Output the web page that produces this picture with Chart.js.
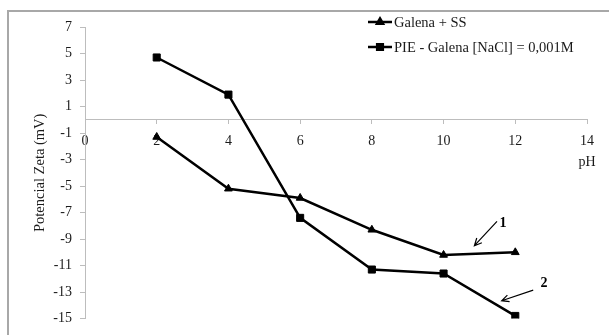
<!DOCTYPE html>
<html>
<head>
<meta charset="utf-8">
<script src="https://cdn.jsdelivr.net/npm/chart.js@4"></script>
<style>
  html, body { margin: 0; padding: 0; background: #fff; overflow: hidden; }
  #wrap { position: relative; width: 609px; height: 335px; }
  #frame { position: absolute; left: 7px; top: 10px; width: 620px; height: 340px;
           border-left: 2px solid #a8a8a8; border-top: 2px solid #a8a8a8; box-sizing: border-box; }
  canvas { position: absolute; left: 0; top: 0; }
</style>
</head>
<body>
<div id="wrap">
  <div id="frame"></div>
  <canvas id="c" width="609" height="335"></canvas>
</div>
<script>
// pH values where zeta potential was measured
const phValues = [2, 4, 6, 8, 10, 12];

// Zeta potential (mV) per series
const galenaSS = [-1.3, -5.2, -5.9, -8.3, -10.2, -10.0];
const pieGalena = [4.7, 1.9, -7.4, -11.3, -11.6, -14.8];

const seriesLabels = ['Galena + SS', 'PIE - Galena [NaCl] = 0,001M'];
const seriesMarkers = ['triangle', 'rect'];

// Axis ticks
const xTicks = [0, 2, 4, 6, 8, 10, 12, 14];
const yTicks = [-15, -13, -11, -9, -7, -5, -3, -1, 1, 3, 5, 7];
const xTitle = 'pH';
const yTitle = 'Potencial Zeta (mV)';

// Curve callouts: label text, label position, arrow tail and head (data units)
const callouts = [
  { text: '1', at: [11.66, -7.85], from: [11.49, -7.66], to: [10.86, -9.5] },
  { text: '2', at: [12.8, -12.35], from: [12.5, -12.85], to: [11.62, -13.65] }
];

const FONT = '"Liberation Serif", "Times New Roman", serif';
const INK = '#1a1a1a';

const toPoints = vals => vals.map((v, i) => ({ x: phValues[i], y: v }));

const legendPlugin = {
  id: 'sideLegend',
  afterDraw(chart) {
    const ctx = chart.ctx;
    const x0 = 368, x1 = 392;
    const rows = [22, 47];
    ctx.save();
    chart.data.datasets.forEach((ds, i) => {
      const y = rows[i];
      ctx.strokeStyle = '#000';
      ctx.lineWidth = 2.5;
      ctx.beginPath();
      ctx.moveTo(x0, y);
      ctx.lineTo(x1, y);
      ctx.stroke();
      ctx.fillStyle = '#000';
      Chart.helpers.drawPoint(ctx, {
        pointStyle: ds.pointStyle, radius: ds.pointRadius - 1, rotation: 0, borderWidth: 1
      }, (x0 + x1) / 2, y);
      ctx.fill();
      ctx.fillStyle = INK;
      ctx.font = '14.5px ' + FONT;
      ctx.textBaseline = 'middle';
      ctx.textAlign = 'left';
      ctx.fillText(ds.label, x1 + 2, y + 1);
    });
    ctx.restore();
  }
};

const calloutPlugin = {
  id: 'callouts',
  afterDatasetsDraw(chart) {
    const ctx = chart.ctx;
    const xs = chart.scales.x, ys = chart.scales.y;
    const px = p => [xs.getPixelForValue(p[0]), ys.getPixelForValue(p[1])];
    ctx.save();
    callouts.forEach(c => {
      const [ax, ay] = px(c.from);
      const [bx, by] = px(c.to);
      ctx.strokeStyle = '#000';
      ctx.lineWidth = 1.2;
      ctx.beginPath();
      ctx.moveTo(ax, ay);
      ctx.lineTo(bx, by);
      const ang = Math.atan2(by - ay, bx - ax);
      const L = 8, spread = 0.45;
      ctx.moveTo(bx - L * Math.cos(ang - spread), by - L * Math.sin(ang - spread));
      ctx.lineTo(bx, by);
      ctx.lineTo(bx - L * Math.cos(ang + spread), by - L * Math.sin(ang + spread));
      ctx.stroke();
      const [tx, ty] = px(c.at);
      ctx.fillStyle = '#000';
      ctx.font = 'bold 14px ' + FONT;
      ctx.textAlign = 'center';
      ctx.textBaseline = 'middle';
      ctx.fillText(c.text, tx, ty);
    });
    ctx.restore();
  }
};

new Chart(document.getElementById('c'), {
  type: 'line',
  data: {
    datasets: [
      {
        label: seriesLabels[0], data: toPoints(galenaSS),
        borderColor: '#000', backgroundColor: '#000', borderWidth: 2.5,
        pointStyle: seriesMarkers[0], pointRadius: 4.5, pointBorderWidth: 1, tension: 0
      },
      {
        label: seriesLabels[1], data: toPoints(pieGalena),
        borderColor: '#000', backgroundColor: '#000', borderWidth: 2.5,
        pointStyle: seriesMarkers[1], pointRadius: 5, pointBorderWidth: 1, tension: 0
      }
    ]
  },
  options: {
    responsive: false,
    animation: false,
    events: [],
    layout: { padding: { top: 27, bottom: 8, left: 0, right: 22 } },
    plugins: { legend: { display: false }, tooltip: { enabled: false } },
    scales: {
      x: {
        type: 'linear',
        position: { y: 0 },
        min: xTicks[0], max: xTicks[xTicks.length - 1],
        afterBuildTicks: s => { s.ticks = xTicks.map(v => ({ value: v })); },
        grid: { drawOnChartArea: false, drawTicks: true, tickLength: 4, color: '#bdbdbd', tickColor: '#bdbdbd' },
        border: { color: '#bdbdbd', width: 1 },
        ticks: {
          color: INK, padding: 7,
          font: { family: FONT, size: 14, lineHeight: 1.5 },
          maxRotation: 0, autoSkip: false,
          callback: v => v === xTicks[xTicks.length - 1] ? [String(v), xTitle] : String(v)
        }
      },
      y: {
        type: 'linear',
        min: yTicks[0], max: yTicks[yTicks.length - 1],
        afterBuildTicks: s => { s.ticks = yTicks.map(v => ({ value: v })); },
        afterFit: s => { s.width = 85; },
        grid: { drawOnChartArea: false, drawTicks: true, tickLength: 5, color: '#bdbdbd', tickColor: '#bdbdbd' },
        border: { color: '#bdbdbd', width: 1 },
        ticks: {
          color: INK, padding: 8,
          font: { family: FONT, size: 14 },
          autoSkip: false
        },
        title: {
          display: true, text: yTitle, color: INK,
          font: { family: FONT, size: 14.5 },
          padding: { top: 31, bottom: 0 }
        }
      }
    }
  },
  plugins: [legendPlugin, calloutPlugin]
});
</script>
</body>
</html>
